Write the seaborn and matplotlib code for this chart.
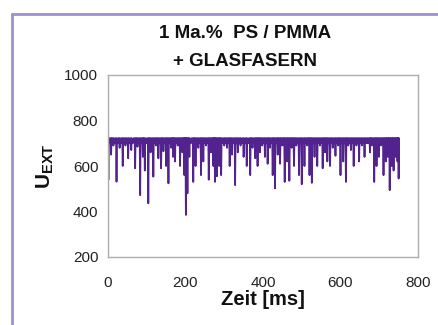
import matplotlib
matplotlib.use('Agg')
import matplotlib.pyplot as plt
import numpy as np
import pandas as pd
import seaborn as sns
from matplotlib.lines import Line2D

# signal level between dips and the dips (time in ms, U_EXT at the dip)
top_level = 722
band_low = 700
dip_t = [1, 8, 14, 22, 30, 38, 45, 52, 60, 70, 76, 83, 90, 95, 104, 110, 117, 124,
         130, 137, 143, 150, 156, 163, 168, 173, 180, 186, 192, 197, 201, 205, 210,
         220, 226, 233, 240, 246, 253, 260, 266, 272, 276, 281, 287, 292, 300, 307,
         314, 320, 328, 335, 342, 350, 358, 367, 373, 380, 386, 392, 398, 405, 412,
         418, 425, 431, 438, 444, 450, 456, 462, 468, 474, 480, 486, 493, 500, 507,
         514, 520, 526, 533, 540, 547, 554, 560, 566, 573, 580, 587, 594, 600, 607,
         614, 620, 627, 634, 641, 648, 655, 662, 669, 676, 681, 687, 693, 699, 705,
         711, 717, 722, 727, 732, 737, 742, 747, 750]
dip_v = [540, 650, 690, 531, 680, 600, 690, 634, 670, 590, 685, 472, 640, 580, 436,
         660, 553, 690, 634, 590, 665, 600, 524, 680, 640, 620, 690, 600, 660, 560,
         385, 480, 640, 530, 600, 680, 560, 620, 690, 540, 660, 600, 530, 555, 600,
         560, 690, 680, 600, 650, 516, 660, 690, 640, 600, 560, 680, 634, 600, 660,
         690, 640, 610, 680, 560, 502, 650, 610, 690, 530, 620, 535, 680, 600, 690,
         560, 520, 600, 690, 560, 526, 640, 600, 690, 590, 660, 620, 600, 680, 645,
         690, 560, 620, 530, 690, 670, 600, 690, 620, 690, 640, 700, 660, 690, 530,
         600, 640, 690, 560, 620, 640, 494, 600, 580, 640, 620, 545]

# build the trace: noisy top band, down to each dip and back up
t_pts = []
u_pts = []
for i, (t, v) in enumerate(zip(dip_t, dip_v)):
    t_pts += [t - 1.2, t, t + 1.2]
    u_pts += [top_level, v, top_level]
    if i + 1 < len(dip_t):
        gap = dip_t[i + 1] - t
        t_pts += [t + gap * 0.4, t + gap * 0.6]
        u_pts += [band_low, top_level]
trace = pd.DataFrame({'Zeit': t_pts, 'U': u_pts})

sns.set_style('white')
plt.rcParams['font.family'] = ['Liberation Sans', 'DejaVu Sans']
plt.rcParams['mathtext.fontset'] = 'custom'
plt.rcParams['mathtext.bf'] = 'Liberation Sans:bold'
plt.rcParams['mathtext.rm'] = 'Liberation Sans'

fig = plt.figure(figsize=(4.39, 3.25), dpi=100)
ax = fig.add_axes([108 / 439, 1 - 257 / 325, 310 / 439, 182 / 325])

sns.lineplot(data=trace, x='Zeit', y='U', ax=ax, color='#52238f', linewidth=1.3,
             estimator=None, sort=False)

ax.set_xlim(0, 800)
ax.set_ylim(200, 1000)
ax.set_xticks([0, 200, 400, 600, 800])
ax.set_yticks([200, 400, 600, 800, 1000])
for s in ax.spines.values():
    s.set_color('#b0aca8')
    s.set_linewidth(1.0)
ax.tick_params(axis='both', direction='out', length=4, width=1, color='#b0aca8',
               labelsize=11, labelcolor='#222222', pad=3)
ax.tick_params(axis='x', pad=10)
ax.set_xlabel('Zeit [ms]', fontsize=14.5, fontweight='bold', labelpad=0, color='#111111')
ax.set_ylabel(r'$\mathbf{U_{EXT}}$', fontsize=15, labelpad=6, color='#111111')

fig.text(245 / 439, 1 - 33 / 325, '1 Ma.%  PS / PMMA', ha='center', va='center',
         fontsize=13.5, fontweight='bold', color='#111111')
fig.text(245 / 439, 1 - 61 / 325, '+ GLASFASERN', ha='center', va='center',
         fontsize=13.5, fontweight='bold', color='#111111')

# lavender frame on left and top
fig.add_artist(Line2D([12 / 439, 12 / 439], [0, 1 - 14 / 325], transform=fig.transFigure,
                      color='#9f8fd0', linewidth=2))
fig.add_artist(Line2D([12 / 439, 1], [1 - 14 / 325, 1 - 14 / 325], transform=fig.transFigure,
                      color='#9f8fd0', linewidth=2))

fig.savefig('out.png', dpi=100, facecolor='white')
